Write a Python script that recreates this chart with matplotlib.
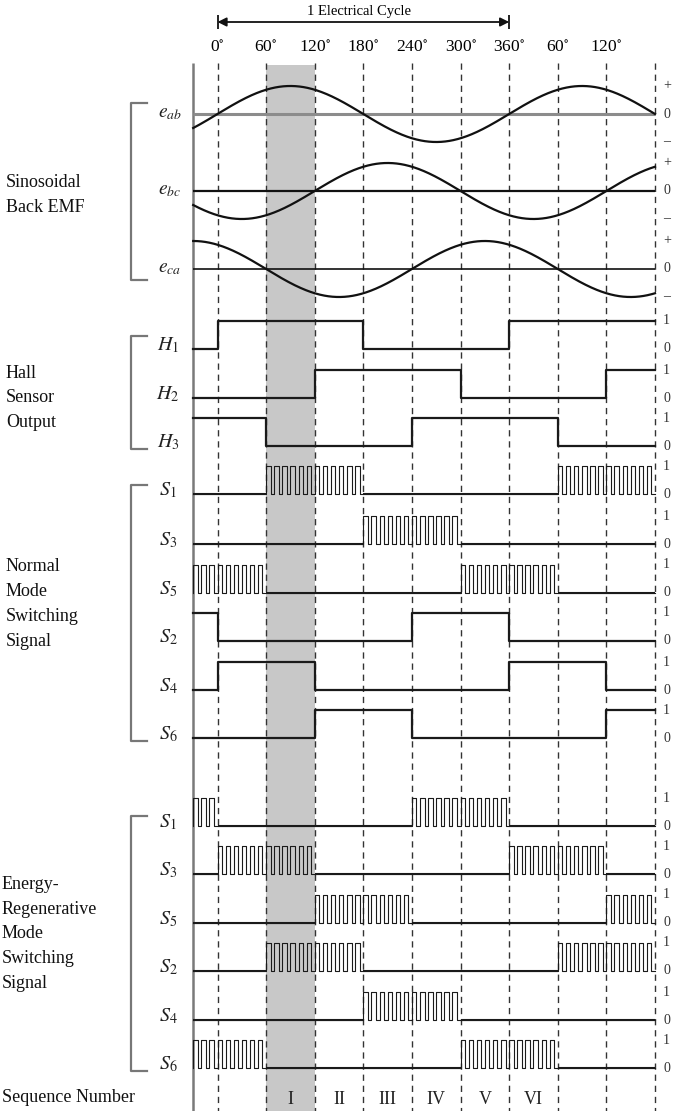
import numpy as np
import matplotlib.pyplot as plt

plt.rcParams['font.family'] = ['Liberation Serif', 'DejaVu Serif']
plt.rcParams['mathtext.fontset'] = 'stix'

# electrical angle grid (degrees)
seg_edges = [-30, 0, 60, 120, 180, 240, 300, 360, 420, 480, 540]
grid_angles = [0, 60, 120, 180, 240, 300, 360, 420, 480, 540]
grid_labels = ['0', '60', '120', '180', '240', '300', '360', '60', '120', '']

# sinusoidal back emf
emf_names = ['ab', 'bc', 'ca']
emf_phase = [0, 120, 240]

# states per 60 deg segment: 0 = low, 1 = high, 2 = PWM
hall_names = ['1', '2', '3']
hall_states = [
    [0, 1, 1, 1, 0, 0, 0, 1, 1, 1],
    [0, 0, 0, 1, 1, 1, 0, 0, 0, 1],
    [1, 1, 0, 0, 0, 1, 1, 1, 0, 0],
]

normal_names = ['1', '3', '5', '2', '4', '6']
normal_states = [
    [0, 0, 2, 2, 0, 0, 0, 0, 2, 2],
    [0, 0, 0, 0, 2, 2, 0, 0, 0, 0],
    [2, 2, 0, 0, 0, 0, 2, 2, 0, 0],
    [1, 0, 0, 0, 0, 1, 1, 0, 0, 0],
    [0, 1, 1, 0, 0, 0, 0, 1, 1, 0],
    [0, 0, 0, 1, 1, 0, 0, 0, 0, 1],
]

regen_names = ['1', '3', '5', '2', '4', '6']
regen_states = [
    [2, 0, 0, 0, 0, 2, 2, 0, 0, 0],
    [0, 2, 2, 0, 0, 0, 0, 2, 2, 0],
    [0, 0, 0, 2, 2, 0, 0, 0, 0, 2],
    [0, 0, 2, 2, 0, 0, 0, 0, 2, 2],
    [0, 0, 0, 0, 2, 2, 0, 0, 0, 0],
    [2, 2, 0, 0, 0, 0, 2, 2, 0, 0],
]

seq_labels = ['I', 'II', 'III', 'IV', 'V', 'VI']
seq_centers = [90, 150, 210, 270, 330, 390]

# layout (rows in pixels from top)
W, H = 674, 1111
x0_px = 217.5
px_per_deg = (655 - x0_px) / 540.0
emf_zero = [114, 191, 269]
emf_amp = 28
hall_low = [349, 398, 446]
normal_low = [494, 544, 593, 641, 690, 738]
regen_low = [826, 874, 923, 971, 1020, 1068]
pulse_h = 28
pwm_period = 10.0
pwm_duty = 0.55


def px2deg(p):
    return (p - x0_px) / px_per_deg


def waveform(states):
    xs, ys = [], []
    i, n = 0, len(states)
    while i < n:
        s = states[i]
        j = i
        while j + 1 < n and states[j + 1] == s:
            j += 1
        a, b = seg_edges[i], seg_edges[j + 1]
        if s == 2:
            t = a
            while t < b - 1e-6:
                e = min(t + pwm_duty * pwm_period, b)
                xs += [t, t, e, e]
                ys += [0, 1, 1, 0]
                t += pwm_period
            xs.append(b)
            ys.append(0)
        else:
            xs += [a, b]
            ys += [s, s]
        i = j + 1
    return np.array(xs), np.array(ys)


fig = plt.figure(figsize=(W / 100, H / 100), dpi=100)
ax = fig.add_axes([0, 0, 1, 1])
ax.set_xlim(px2deg(0), px2deg(W))
ax.set_ylim(H, 0)
ax.axis('off')

# shaded sequence I
ax.fill_betweenx([65, H], 60, 120, color='#c8c8c8', lw=0, zorder=0)
# left border and dashed grid
ax.vlines(-30, 63, H, color='#7a7a7a', lw=1.8, zorder=1)
ax.vlines(grid_angles, 63, H, color='#333333', lw=1.0,
          linestyles=[(0, (4.5, 3.5))], zorder=1)

# one electrical cycle arrow
ax.annotate('', xy=(0, 22), xytext=(360, 22),
            arrowprops=dict(arrowstyle='<|-|>', color='#111111', lw=1.3,
                            mutation_scale=13, shrinkA=0, shrinkB=0))
ax.vlines([0, 360], 15, 29, color='#111111', lw=1.3)
ax.text(175, 12, '1 Electrical Cycle', ha='center', va='center', fontsize=10.5)
for a, lab in zip(grid_angles, grid_labels):
    if lab:
        ax.text(a, 48, lab + r'$^{\circ}$', ha='center', va='center', fontsize=12.5)

# back emf
th = np.linspace(-30, 540, 800)
zero_style = [('#8c8c8c', 2.2), ('#111111', 1.6), ('#111111', 1.2)]
for k in range(3):
    z = emf_zero[k]
    c, lw = zero_style[k]
    ax.hlines(z, -30, 540, color=c, lw=lw, zorder=2)
    ax.plot(th, z - emf_amp * np.sin(np.radians(th - emf_phase[k])),
            color='#111111', lw=1.6, zorder=3)
    ax.text(px2deg(170), z, r'$e_{%s}$' % emf_names[k], ha='center',
            va='center', fontsize=14, color='#222222')
    for dy, sym in [(-emf_amp, '+'), (0, '0'), (emf_amp, '\u2013')]:
        ax.text(px2deg(663), z + dy, sym, ha='left', va='center',
                fontsize=10, color='#333333')


def draw_rows(names, states, lows, letter):
    for nm, st, low in zip(names, states, lows):
        xs, ys = waveform(st)
        has_pwm = 2 in st
        ax.plot(xs, low - pulse_h * ys, color='#1a1a1a',
                lw=0.8 if has_pwm else 1.6, zorder=3)
        if has_pwm:
            for s, a, b in zip(st, seg_edges[:-1], seg_edges[1:]):
                if s != 2:
                    ax.hlines(low - pulse_h * s, a, b, color='#1a1a1a',
                              lw=1.5, zorder=3)
        ax.text(px2deg(168), low - 4, r'$%s_{\mathit{%s}}$' % (letter, nm),
                ha='center', va='center', fontsize=14.5, color='#222222')
        ax.text(px2deg(663), low - pulse_h, '1', ha='left', va='center',
                fontsize=10, color='#333333')
        ax.text(px2deg(663), low, '0', ha='left', va='center',
                fontsize=10, color='#333333')


draw_rows(hall_names, hall_states, hall_low, 'H')
draw_rows(normal_names, normal_states, normal_low, 'S')
draw_rows(regen_names, regen_states, regen_low, 'S')

# group brackets
for top, bot in [(103, 280), (336, 449), (485, 741), (816, 1071)]:
    ax.plot([px2deg(147), px2deg(131), px2deg(131), px2deg(147)],
            [top, top, bot, bot], color='#777777', lw=1.6)

# group titles
groups = [
    ('Sinosoidal\nBack EMF', 6, 195),
    ('Hall\nSensor\nOutput', 6, 398),
    ('Normal\nMode\nSwitching\nSignal', 6, 604),
    ('Energy-\nRegenerative\nMode\nSwitching\nSignal', 2, 934),
]
for txt, xp, yc in groups:
    ax.text(px2deg(xp), yc, txt, ha='left', va='center', fontsize=13,
            linespacing=1.6, color='#111111')

ax.text(px2deg(2), 1097, 'Sequence Number', ha='left', va='center',
        fontsize=13, color='#111111')
for c, lab in zip(seq_centers, seq_labels):
    ax.text(c, 1099, lab, ha='center', va='center', fontsize=13,
            color='#222222')

fig.savefig('out.png', dpi=100)
